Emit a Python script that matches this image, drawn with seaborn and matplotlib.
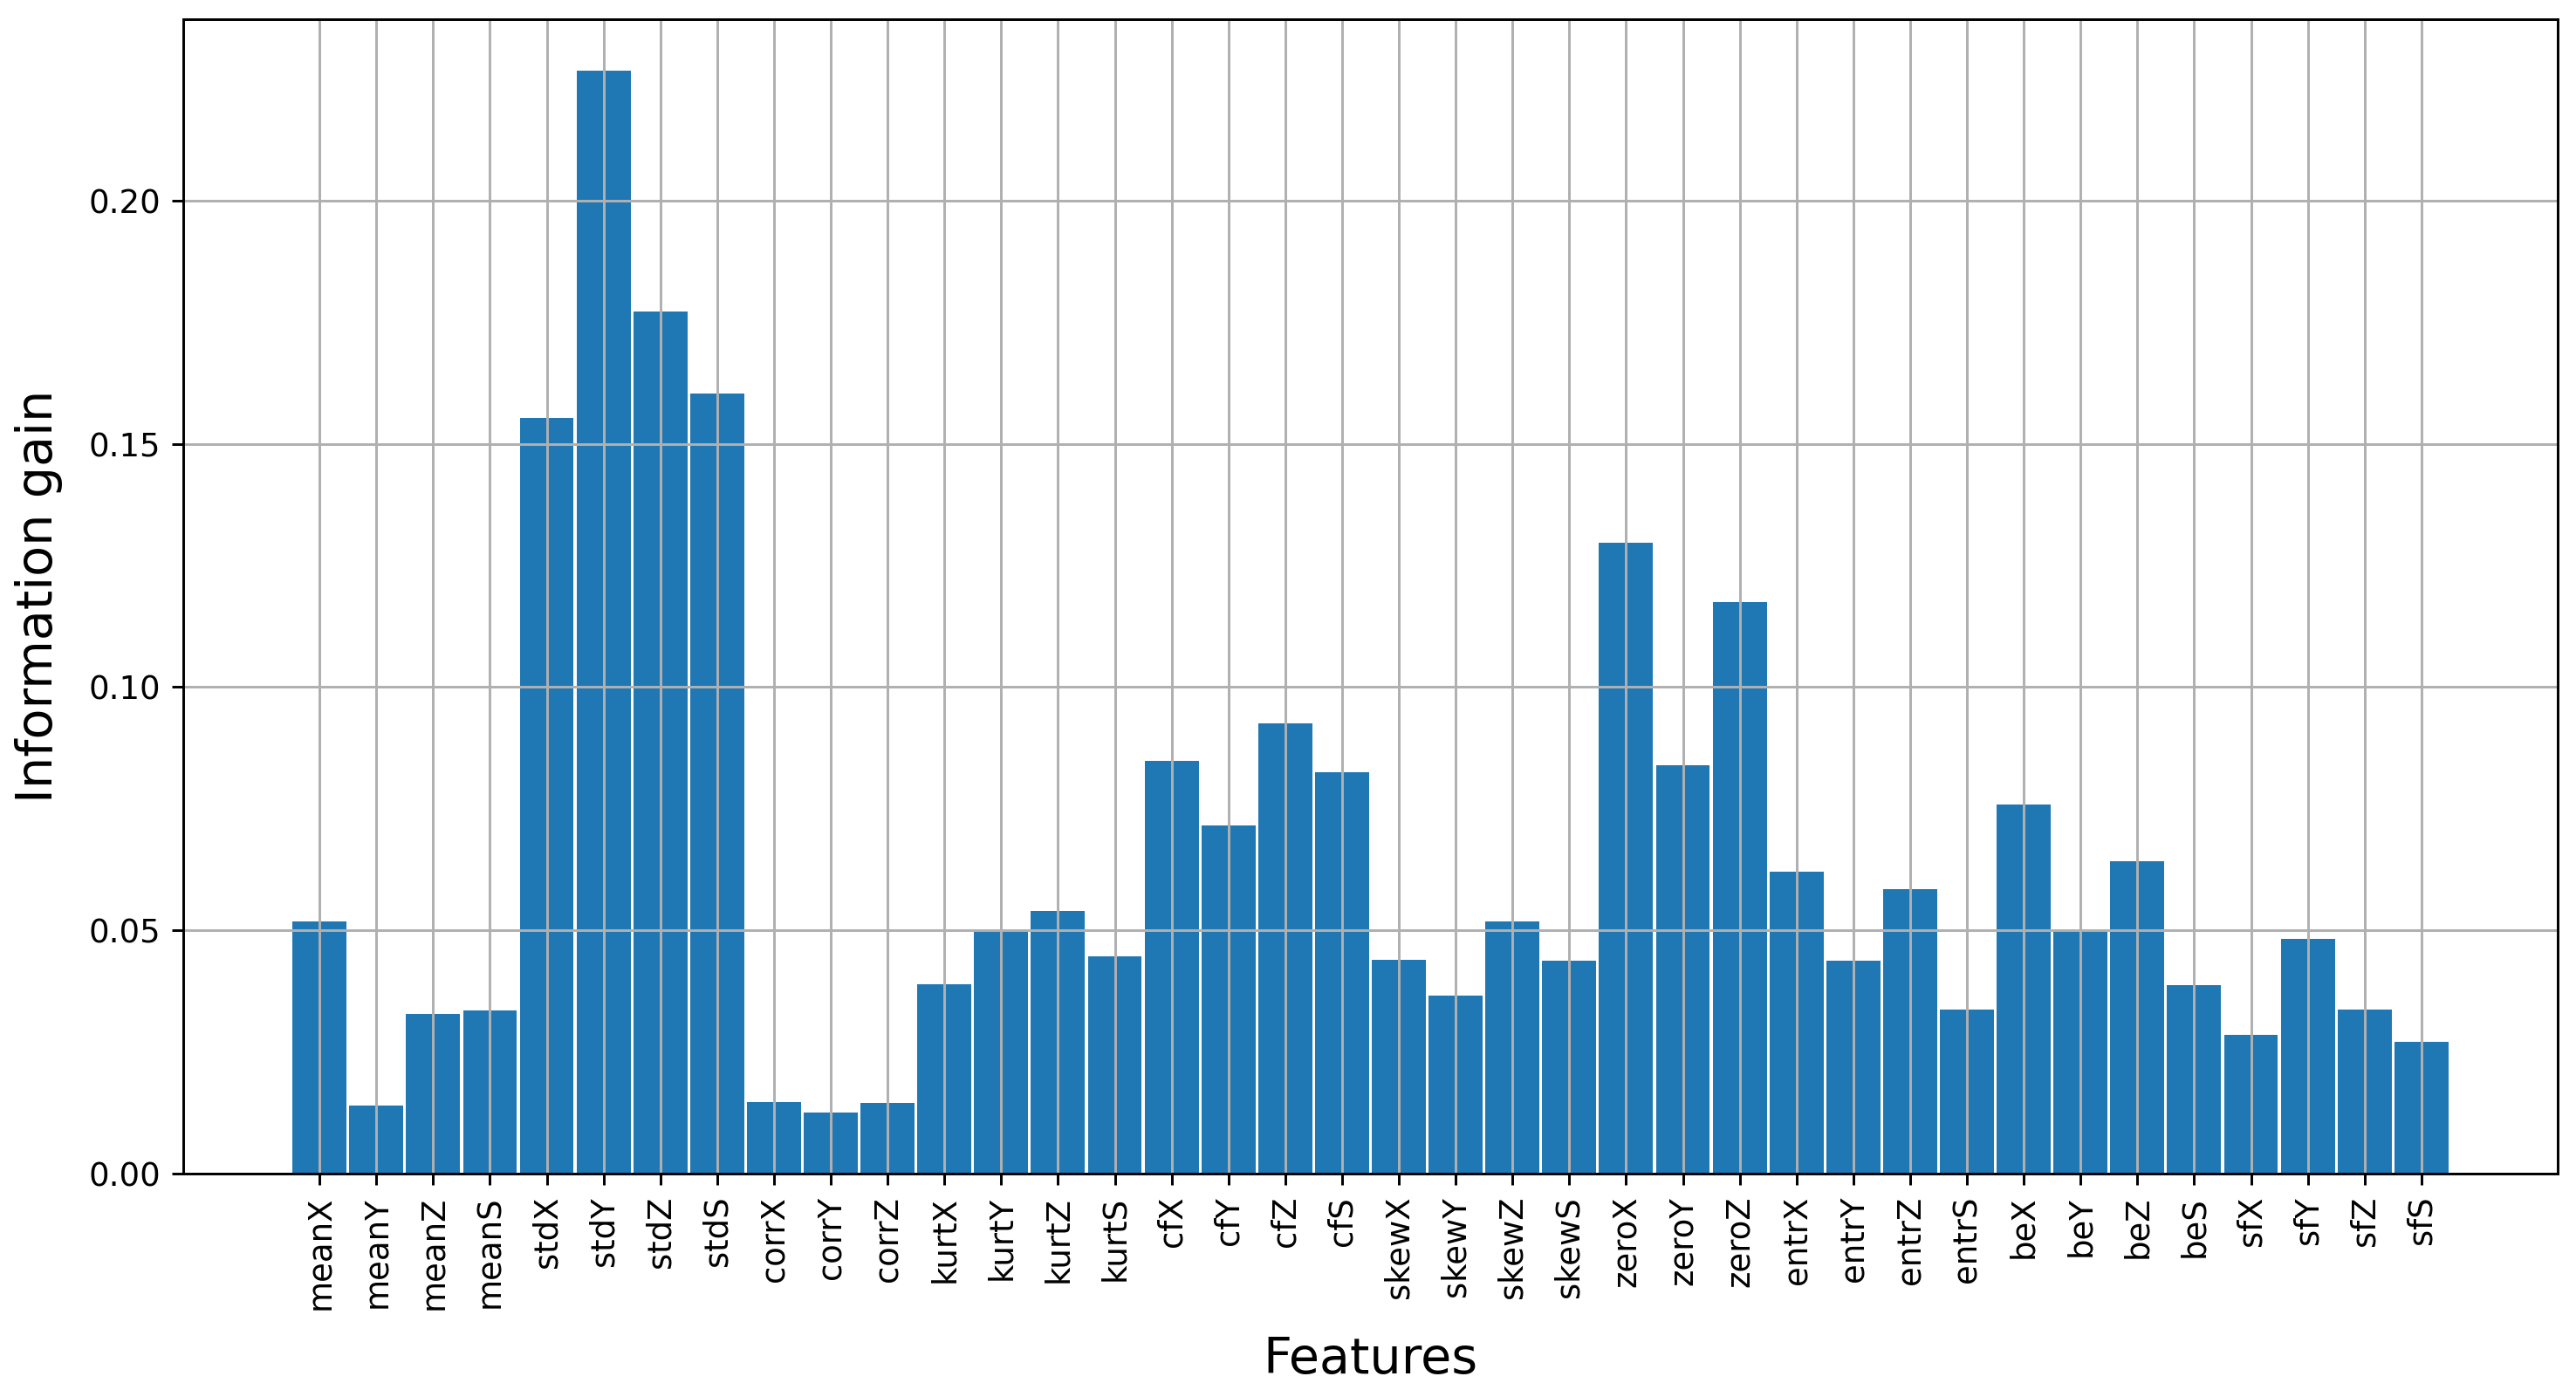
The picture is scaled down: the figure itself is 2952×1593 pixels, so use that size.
"""
Information gain per feature — bar chart recreated with seaborn
"""

import pandas as pd
import matplotlib
matplotlib.use("Agg")
import matplotlib.pyplot as plt
import seaborn as sns

OUT_PATH = "out.png"
DPI = 266
BAR_COLOR = "#1f77b4"

# Feature names in plotting order
FEATURES = [
    "meanX", "meanY", "meanZ", "meanS",
    "stdX", "stdY", "stdZ", "stdS",
    "corrX", "corrY", "corrZ",
    "kurtX", "kurtY", "kurtZ", "kurtS",
    "cfX", "cfY", "cfZ", "cfS",
    "skewX", "skewY", "skewZ", "skewS",
    "zeroX", "zeroY", "zeroZ",
    "entrX", "entrY", "entrZ", "entrS",
    "beX", "beY", "beZ", "beS",
    "sfX", "sfY", "sfZ", "sfS",
]

# Information gain
GAIN = [
    0.0518, 0.0140, 0.0329, 0.0336,
    0.1553, 0.2266, 0.1771, 0.1603,
    0.0147, 0.0125, 0.0145,
    0.0389, 0.0500, 0.0540, 0.0446,
    0.0848, 0.0716, 0.0926, 0.0824,
    0.0439, 0.0365, 0.0518, 0.0438,
    0.1297, 0.0839, 0.1175,
    0.0620, 0.0438, 0.0585, 0.0337,
    0.0758, 0.0500, 0.0642, 0.0387,
    0.0285, 0.0482, 0.0337, 0.0271,
]


def chart_information_gain(df):
    fig, ax = plt.subplots(figsize=(2952 / DPI, 1593 / DPI), dpi=DPI)
    fig.subplots_adjust(left=0.0711, right=0.9929, bottom=0.1557, top=0.9862)

    sns.barplot(data=df, x="feature", y="gain", color=BAR_COLOR,
                saturation=1, width=0.95, ax=ax)

    # seaborn switches the grid off on the categorical axis; put it back
    ax.grid(True, color="#b0b0b0", linewidth=0.8)
    ax.set_axisbelow("line")

    n = len(df)
    ax.set_xlim(-2.4, n - 1 + 2.4)
    ax.set_ylim(0, df["gain"].max() * 1.047)

    ax.set_xlabel("Features", fontsize=15.5, labelpad=8)
    ax.set_ylabel("Information gain", fontsize=15.5, labelpad=8)
    ax.tick_params(axis="x", labelrotation=90, labelsize=10)
    ax.tick_params(axis="y", labelsize=10)

    plt.savefig(OUT_PATH, dpi=DPI)
    plt.close()


def main():
    df = pd.DataFrame({"feature": FEATURES, "gain": GAIN})
    chart_information_gain(df)


if __name__ == "__main__":
    main()
